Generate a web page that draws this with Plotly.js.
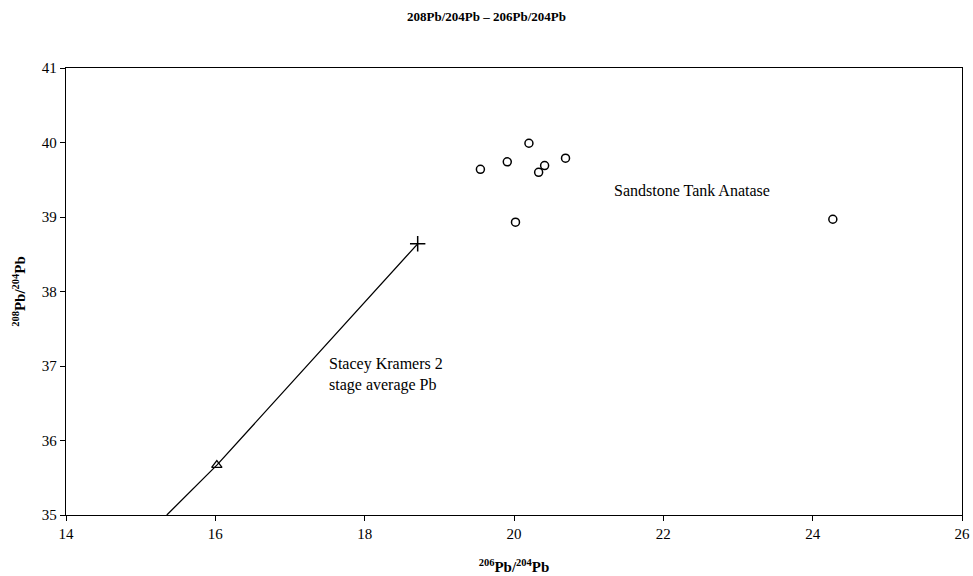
<!DOCTYPE html>
<html>
<head>
<meta charset="utf-8">
<script src="https://cdn.plot.ly/plotly-3.0.1.min.js"></script>
<style>html,body{margin:0;padding:0;background:#fff;}#chart{width:973px;height:576px;}</style>
</head>
<body>
<div id="chart"></div>
<script>
// Sandstone Tank anatase samples
const anataseX = [19.55, 19.91, 20.20, 20.41, 20.33, 20.69, 20.02, 24.27];
const anataseY = [39.64, 39.74, 39.99, 39.69, 39.60, 39.79, 38.93, 38.97];
// Stacey-Kramers 2-stage average Pb growth curve segment
const skLineX = [15.35, 16.02, 18.71];
const skLineY = [35.00, 35.67, 38.64];
const triangleX = [16.02];
const triangleY = [35.67];
const crossX = [18.71];
const crossY = [38.64];
const xTicks = [14, 16, 18, 20, 22, 24, 26];
const yTicks = [35, 36, 37, 38, 39, 40, 41];

const font = "Liberation Serif, Times New Roman, serif";

const traces = [
  {x: skLineX, y: skLineY, mode: 'lines', line: {color: '#000', width: 1.3}, hoverinfo: 'skip'},
  {x: triangleX, y: triangleY, mode: 'markers', marker: {symbol: 'triangle-up-open', size: 9, color: '#000', line: {width: 1.3}}},
  {x: crossX, y: crossY, mode: 'markers', marker: {symbol: 'cross-thin-open', size: 11, color: '#000', line: {width: 1.5}}},
  {x: anataseX, y: anataseY, mode: 'markers', marker: {symbol: 'circle-open', size: 8, color: '#000', line: {width: 1.5}}}
];

const layout = {
  width: 973, height: 576,
  margin: {l: 66, r: 11, t: 68, b: 61},
  paper_bgcolor: '#fff', plot_bgcolor: '#fff',
  showlegend: false,
  font: {family: font, color: '#000', size: 15},
  title: {text: '<b>208Pb/204Pb – 206Pb/204Pb</b>', font: {family: font, size: 13, color: '#000'}, x: 0.5, xanchor: 'center', y: 0.972, yanchor: 'middle'},
  xaxis: {
    range: [14, 26], tickvals: xTicks, ticktext: xTicks.map(String),
    showgrid: false, zeroline: false, showline: true, linecolor: '#000', linewidth: 1.2, mirror: true,
    ticks: 'outside', ticklen: 5, tickcolor: '#000', tickfont: {family: font, size: 15},
    title: {text: '<b><sup>206</sup>Pb/<sup>204</sup>Pb</b>', font: {family: font, size: 15}, standoff: 20}
  },
  yaxis: {
    range: [35, 41], tickvals: yTicks, ticktext: yTicks.map(String),
    showgrid: false, zeroline: false, showline: true, linecolor: '#000', linewidth: 1.2, mirror: true,
    ticks: 'outside', ticklen: 5, tickcolor: '#000', tickfont: {family: font, size: 15},
    title: {text: '<b><sup>208</sup>Pb/<sup>204</sup>Pb</b>', font: {family: font, size: 15}, standoff: 12}
  },
  annotations: [
    {x: 21.31, y: 39.36, xref: 'x', yref: 'y', text: 'Sandstone Tank Anatase', showarrow: false, xanchor: 'left', yanchor: 'middle', font: {family: font, size: 16}},
    {x: 17.49, y: 36.88, xref: 'x', yref: 'y', text: 'Stacey Kramers 2<br>stage average Pb', showarrow: false, xanchor: 'left', yanchor: 'middle', align: 'left', font: {family: font, size: 16}}
  ]
};

Plotly.newPlot('chart', traces, layout, {displayModeBar: false, staticPlot: true});
</script>
</body>
</html>
